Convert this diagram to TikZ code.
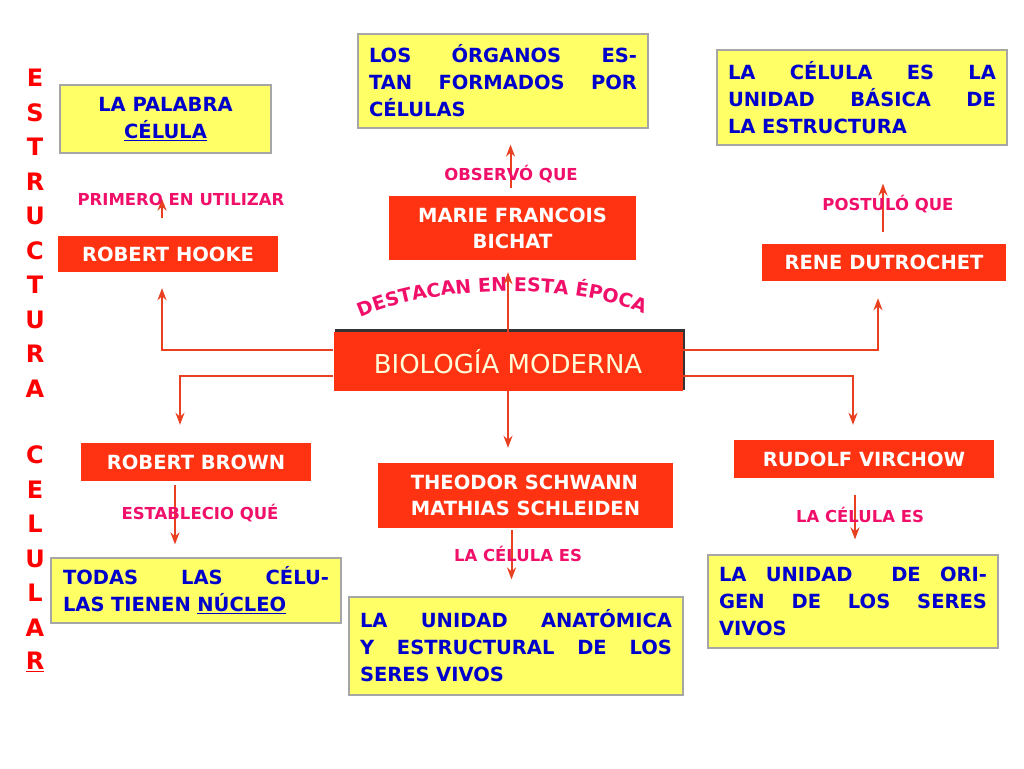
\documentclass[tikz,border=0pt]{standalone}
\usepackage{fontspec}
\setmainfont{DejaVu Sans}
\usetikzlibrary{decorations.text,arrows.meta}
\definecolor{yel}{HTML}{FFFF66}
\definecolor{rd}{HTML}{FF3311}
\definecolor{mg}{HTML}{F0106A}
\definecolor{bl}{HTML}{0000CC}
\definecolor{ln}{HTML}{E84020}
\begin{document}
\begin{tikzpicture}[x=1pt,y=-1pt,
 ybox/.style={draw=gray!70,line width=1.2pt,fill=yel,font=\fontsize{19.5}{27}\selectfont\bfseries,text=bl,inner sep=0pt,align=left},
 rbox/.style={fill=rd,font=\fontsize{19.5}{26}\selectfont\bfseries,text=white,inner sep=0pt,align=center},
 lab/.style={font=\fontsize{16.5}{18}\selectfont\bfseries,text=mg},
 arr/.style={draw=ln,line width=2pt,-{Stealth[length=12pt,width=9pt]}},
 vl/.style={font=\fontsize{24}{24}\selectfont\bfseries,text=red}]
\useasboundingbox (0,0) rectangle (1024,768);
% yellow boxes
\node[ybox,minimum width=211,minimum height=68,align=center] (palabra) at (165.5,119) {LA PALABRA\\\underline{CÉLULA}};
\node[ybox,minimum width=290,minimum height=94,text width=268] (organos) at (503,81) {LOS\hfill ÓRGANOS\hfill ES-\\TAN\hfill FORMADOS\hfill POR\\CÉLULAS};
\node[ybox,minimum width=290,minimum height=95,text width=268] (unidad) at (862,97.5) {LA\hfill CÉLULA\hfill ES\hfill LA\\UNIDAD\hfill BÁSICA\hfill DE\\LA ESTRUCTURA};
\node[ybox,minimum width=290,minimum height=65,text width=266] (todas) at (196,590.5) {TODAS\hfill LAS\hfill CÉLU-\\LAS TIENEN \underline{NÚCLEO}};
\node[ybox,minimum width=334,minimum height=98,text width=312] (anat) at (516,646) {LA\hfill UNIDAD\hfill ANATÓMICA\\Y\hfill ESTRUCTURAL\hfill DE\hfill LOS\\SERES VIVOS};
\node[ybox,minimum width=290,minimum height=93,text width=268] (origen) at (853,601.5) {LA\hfill UNIDAD\hfill\hfill DE\hfill ORI-\\GEN\hfill DE\hfill LOS\hfill SERES\\VIVOS};
% red boxes
\node[rbox,minimum width=220,minimum height=36] (hooke) at (168,254) {ROBERT HOOKE};
\node[rbox,minimum width=247,minimum height=64] (bichat) at (512.5,228) {MARIE FRANCOIS\\BICHAT};
\node[rbox,minimum width=244,minimum height=37] (dutro) at (884,262.5) {RENE DUTROCHET};
\node[rbox,minimum width=230,minimum height=38] (brown) at (196,462) {ROBERT BROWN};
\node[rbox,minimum width=295,minimum height=65,align=left] (schwann) at (525.5,495.5) {THEODOR SCHWANN\\MATHIAS SCHLEIDEN};
\node[rbox,minimum width=260,minimum height=38] (virchow) at (864,459) {RUDOLF VIRCHOW};
% central
\fill[black!80] (335,328.5) rectangle (685,390);
\node[fill=rd,minimum width=349,minimum height=59,inner sep=0pt,font=\fontsize{26}{26}\selectfont,text=yellow!15!white] (bio) at (508,361.5) {BIOLOGÍA MODERNA};
\path[decorate,decoration={text along path,text align=center,text={|\fontsize{19}{19}\selectfont\bfseries\color{mg}|DESTACAN EN ESTA ÉPOCA}}] (338,330) .. controls (410,280) and (600,278) .. (666,326);
% connectors
\draw[arr] ([yshift=12]bio.west) -| ([xshift=-6,yshift=-16]hooke.south) ;
\draw[arr] ([yshift=-14]bio.west) -| ([xshift=-16,yshift=18]brown.north);
\draw[arr] ([yshift=12]bio.east) -| ([xshift=-6,yshift=-17]dutro.south);
\draw[arr] ([yshift=-14]bio.east) -| ([xshift=-11,yshift=15]virchow.north);
\draw[arr,shorten >=12pt] (bio.north) -- (bio.north |- bichat.south);
\draw[arr,shorten >=15pt] (bio.south) -- (bio.south |- schwann.north);
\draw[arr,shorten <=18pt,shorten >=45pt] ([xshift=-6]hooke.north) -- ([xshift=-6]hooke.north |- palabra.south);
\draw[arr,shorten <=8pt,shorten >=16pt] ([xshift=-2]bichat.north) -- ([xshift=-2]bichat.north |- organos.south);
\draw[arr,shorten <=12pt,shorten >=38pt] ([xshift=-1]dutro.north) -- ([xshift=-1]dutro.north |- unidad.south);
\draw[arr,shorten <=4pt,shorten >=13pt] ([xshift=-21]brown.south) -- ([xshift=-21]brown.south |- todas.north);
\draw[arr,shorten <=2pt,shorten >=17pt] ([xshift=-14]schwann.south) -- ([xshift=-14]schwann.south |- anat.north);
\draw[arr,shorten <=17pt,shorten >=15pt] ([xshift=-9]virchow.south) -- ([xshift=-9]virchow.south |- origen.north);
% labels
\node[lab] (l1) at (181,199) {PRIMERO EN UTILIZAR};
\node[lab] (l2) at (511,174) {OBSERVÓ QUE};
\node[lab] (l3) at (888,204) {POSTULÓ QUE};
\node[lab] (l4) at (200,513) {ESTABLECIO QUÉ};
\node[lab] (l5) at (518,554) {LA CÉLULA ES};
\node[lab] (l6) at (860,515) {LA CÉLULA ES};
% vertical word
\foreach \l [count=\i from 0] in {E,S,T,R,U,C,T,U,R,A} \node[vl] (v\i) at (35,78+34.5*\i) {\l};
\foreach \l [count=\i from 0] in {C,E,L,U,L,A} \node[vl] (w\i) at (35,455+34.5*\i) {\l};
\node[vl] (w6) at (35,662) {\underline{R}};
\end{tikzpicture}
\end{document}
